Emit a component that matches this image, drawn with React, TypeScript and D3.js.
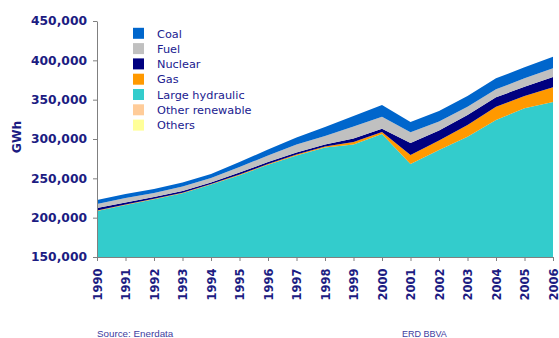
import React, { useEffect, useRef } from 'react';
import * as d3 from 'd3';

// Electricity generation by source, GWh
const years = [1990, 1991, 1992, 1993, 1994, 1995, 1996, 1997, 1998, 1999, 2000, 2001, 2002, 2003, 2004, 2005, 2006];
const coal = [5100, 5100, 5100, 5100, 5100, 6400, 7600, 8900, 11400, 13300, 14900, 13000, 13300, 13600, 14000, 14000, 14700];
const fuel = [5100, 5700, 5100, 5700, 5700, 7000, 8300, 10200, 10800, 15300, 15400, 13700, 11400, 10600, 10200, 10700, 11100];
const nuclear = [3200, 2500, 2300, 2200, 1900, 2500, 2500, 2500, 2500, 4400, 4100, 15300, 12700, 12700, 11900, 11800, 13100];
const gas = [600, 600, 600, 600, 600, 900, 900, 1300, 1300, 3200, 2500, 11400, 12100, 14900, 16900, 15600, 18700];
const largeHydraulic = [203700, 211200, 218400, 225700, 236600, 248100, 261000, 272300, 282000, 285400, 298300, 259600, 276600, 292800, 313500, 327500, 334500];
const otherRenewable = [4500, 4600, 4700, 5000, 5200, 5500, 5800, 6200, 6600, 7000, 7400, 7800, 8500, 9200, 9700, 10400, 11300];
const others = [300, 300, 300, 400, 400, 400, 500, 500, 600, 600, 700, 800, 900, 900, 1000, 1100, 1200];

const yTicks = [150000, 200000, 250000, 300000, 350000, 400000, 450000];

// stacked bottom to top
const series = [
  { name: 'Others', values: others, color: '#ffff99' },
  { name: 'Other renewable', values: otherRenewable, color: '#ffcc99' },
  { name: 'Large hydraulic', values: largeHydraulic, color: '#33cccc' },
  { name: 'Gas', values: gas, color: '#ff9900' },
  { name: 'Nuclear', values: nuclear, color: '#000080' },
  { name: 'Fuel', values: fuel, color: '#c0c0c0' },
  { name: 'Coal', values: coal, color: '#0066cc' },
];

const W = 559;
const H = 338;
const left = 97;
const right = 553;
const top = 21;
const bottom = 257;

const textColor = '#1c1c82';

export default function App() {
  const xAxisRef = useRef<SVGGElement>(null);
  const yAxisRef = useRef<SVGGElement>(null);

  const x = d3.scaleLinear().domain([1990, 2006]).range([left, right]);
  const y = d3.scaleLinear().domain([150000, 450000]).range([bottom, top]);

  const keys = series.map((s) => s.name);
  const rows = years.map((yr, i) => {
    const r: any = { year: yr };
    series.forEach((s) => (r[s.name] = s.values[i]));
    return r;
  });
  const stacked = d3.stack<any>().keys(keys)(rows);
  const area = d3
    .area<any>()
    .x((d) => x(d.data.year))
    .y0((d) => y(d[0]))
    .y1((d) => y(d[1]));

  useEffect(() => {
    const ya = d3.select(yAxisRef.current!);
    ya.call(
      d3
        .axisLeft(y)
        .tickValues(yTicks)
        .tickSize(4)
        .tickSizeOuter(0)
        .tickPadding(6)
        .tickFormat(d3.format(',') as any)
    );
    ya.select('.domain').attr('stroke', '#808080');
    ya.selectAll('.tick line').attr('stroke', '#808080');
    ya.selectAll('.tick text')
      .attr('fill', textColor)
      .attr('font-family', 'DejaVu Sans')
      .attr('font-weight', 'bold')
      .attr('font-size', 12.3);

    const xa = d3.select(xAxisRef.current!);
    xa.call(
      d3
        .axisBottom(x)
        .tickValues(years)
        .tickSize(4)
        .tickSizeOuter(0)
        .tickFormat(d3.format('d') as any)
    );
    xa.select('.domain').attr('stroke', '#808080');
    xa.selectAll('.tick line').attr('stroke', '#808080');
    xa.selectAll('.tick text')
      .attr('fill', textColor)
      .attr('font-family', 'DejaVu Sans')
      .attr('font-weight', 'bold')
      .attr('font-size', 11.5)
      .attr('text-anchor', 'end')
      .attr('transform', 'rotate(-90)')
      .attr('x', -11.5)
      .attr('y', 0)
      .attr('dy', '0.36em');
  }, []);

  const legendItems = [...series].reverse();

  return (
    <svg
      width={W}
      height={H}
      style={{ position: 'absolute', left: 0, top: 0, background: '#fff' }}
    >
      <defs>
        <clipPath id="plot-clip">
          <rect x={left} y={top} width={right - left} height={bottom - top} />
        </clipPath>
      </defs>
      <g clipPath="url(#plot-clip)">
        {stacked.map((layer, i) => (
          <path key={layer.key} d={area(layer) || ''} fill={series[i].color} />
        ))}
      </g>
      <g ref={yAxisRef} transform={`translate(${left},0)`} />
      <g ref={xAxisRef} transform={`translate(0,${bottom})`} />

      <text
        transform="translate(20.5,137) rotate(-90)"
        textAnchor="middle"
        fontFamily="DejaVu Sans"
        fontWeight="bold"
        fontSize={12.3}
        fill={textColor}
      >
        GWh
      </text>

      <g>
        {legendItems.map((s, i) => {
          const cy = 33.3 + i * 15.3;
          return (
            <g key={s.name}>
              <rect x={133} y={cy - 5.5} width={11} height={11} fill={s.color} />
              <text
                x={157}
                y={cy + 4.2}
                fontFamily="DejaVu Sans"
                fontSize={11.3}
                fill="#20208f"
              >
                {s.name}
              </text>
            </g>
          );
        })}
      </g>

      <text x={97} y={337} fontFamily="Liberation Sans" fontSize={9.8} fill="#4040a0">
        Source: Enerdata
      </text>
      <text x={402} y={337} fontFamily="Liberation Sans" fontSize={9} fill="#4040a0">
        ERD BBVA
      </text>
    </svg>
  );
}
